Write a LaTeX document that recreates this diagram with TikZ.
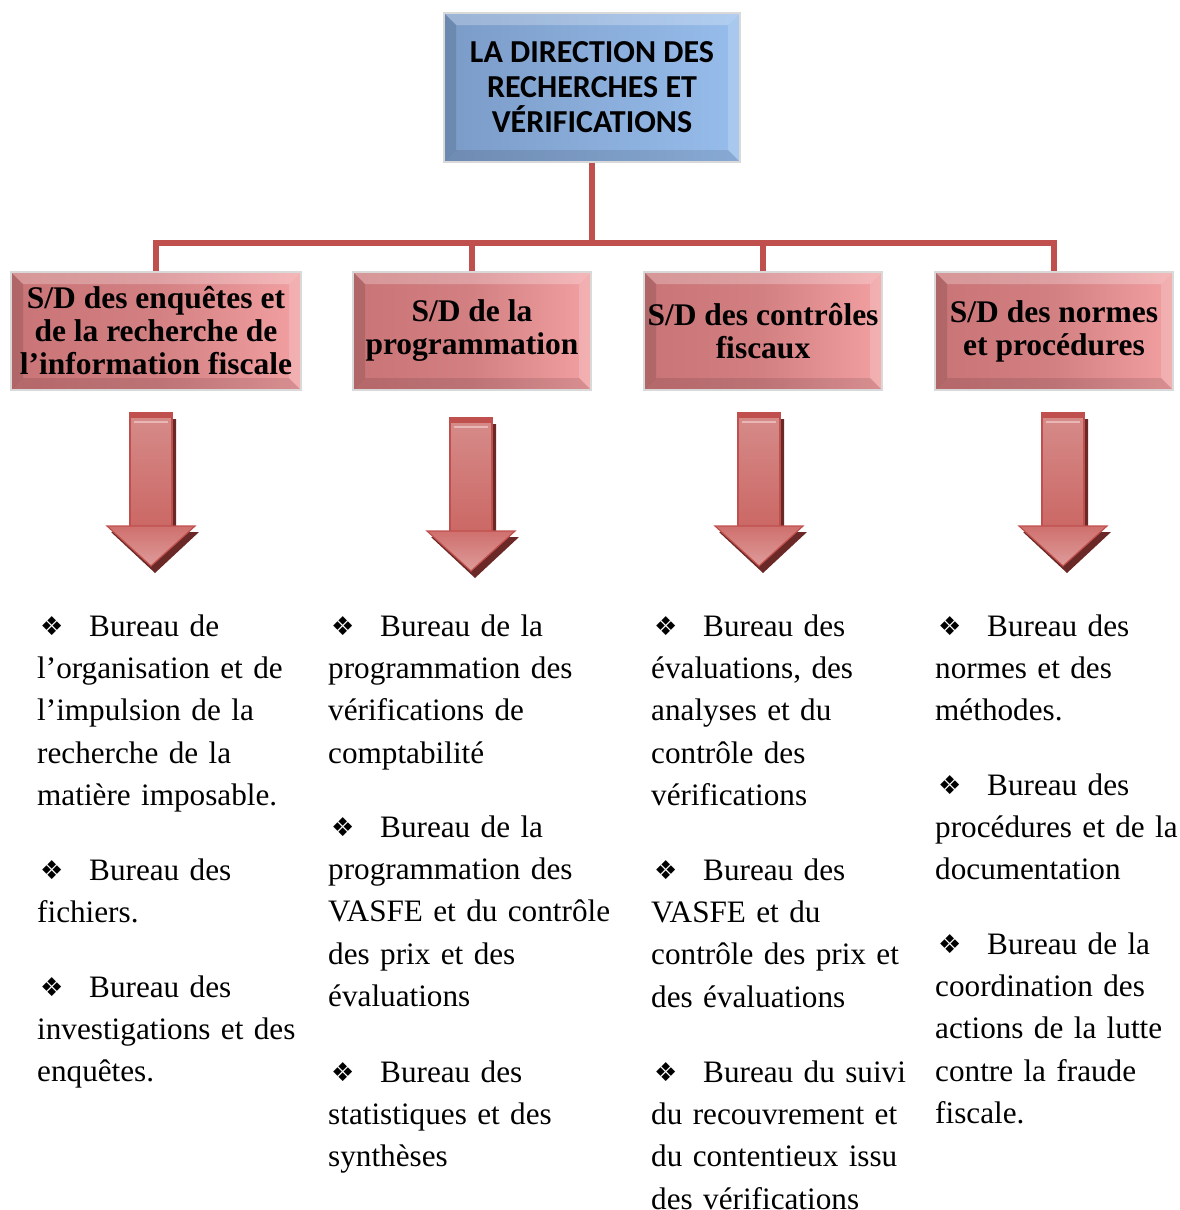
\documentclass[tikz,border=0pt]{standalone}
\usepackage{fontspec}
\setmainfont{Liberation Serif}
\newfontfamily\calib{Carlito}
\newfontfamily\dejavu{DejaVu Sans}
\definecolor{lineR}{HTML}{C0504D}
\definecolor{blueL}{HTML}{7B9BC7}
\definecolor{blueR}{HTML}{97BDEC}
\definecolor{pinkL}{HTML}{C97476}
\definecolor{pinkM}{HTML}{D38083}
\definecolor{pinkR}{HTML}{F2A0A2}
\definecolor{shadowR}{HTML}{6A2826}
\newcommand{\bul}{\makebox[52pt][l]{\hspace{3pt}\raisebox{1pt}{\dejavu\fontsize{26}{26}\selectfont ❖}}}
\newcommand{\downarr}[2]{%
  \fill[shadowR] (#1-17,#2+6) -- (#1+25,#2+6) -- (#1+25,#2+119) -- (#1+48,#2+119) -- (#1+4,#2+160) -- (#1-40,#2+119) -- (#1-17,#2+119) -- cycle;
  \shade[top color=arrTop, middle color=lineR, bottom color=arrBot, draw=lineR, line width=1.2pt] (#1-21,#2) rectangle (#1+21,#2+114);
  \fill[lineR] (#1-21,#2) rectangle (#1+21,#2+5);
  \draw[arrHi, line width=1.5pt] (#1-17,#2+9) -- (#1+17,#2+9);
  \shade[top color=arrHead1, bottom color=arrHead2, draw=lineR, line width=1.2pt] (#1-44,#2+113) -- (#1+44,#2+113) -- (#1,#2+153) -- cycle;
}
\definecolor{arrTop}{HTML}{D68C8A}
\definecolor{arrBot}{HTML}{CB6865}
\definecolor{arrHi}{HTML}{E9B7B5}
\definecolor{arrHead1}{HTML}{CF706E}
\definecolor{arrHead2}{HTML}{DE9C9A}
\tikzset{
  bevel/.style={path picture={
    \fill[white,opacity=.25] (path picture bounding box.north west) -- (path picture bounding box.north east) -- ([shift={(-12pt,-12pt)}]path picture bounding box.north east) -- ([shift={(12pt,-12pt)}]path picture bounding box.north west) -- cycle;
    \fill[white,opacity=.18] (path picture bounding box.north east) -- (path picture bounding box.south east) -- ([shift={(-12pt,12pt)}]path picture bounding box.south east) -- ([shift={(-12pt,-12pt)}]path picture bounding box.north east) -- cycle;
    \fill[black,opacity=.12] (path picture bounding box.north west) -- (path picture bounding box.south west) -- ([shift={(12pt,12pt)}]path picture bounding box.south west) -- ([shift={(12pt,-12pt)}]path picture bounding box.north west) -- cycle;
    \fill[black,opacity=.10] (path picture bounding box.south west) -- (path picture bounding box.south east) -- ([shift={(-12pt,12pt)}]path picture bounding box.south east) -- ([shift={(12pt,12pt)}]path picture bounding box.south west) -- cycle;
  }},
  dirbox/.style={bevel, left color=blueL, right color=blueR, draw=black!15, line width=1.5pt,
    minimum width=296pt, minimum height=149pt, inner sep=0pt, align=center,
    font=\calib\bfseries\fontsize{32}{35}\selectfont},
  sdbox/.style={bevel, left color=pinkL, right color=pinkR, middle color=pinkM, draw=black!15, line width=1.5pt,
    minimum height=118pt, inner sep=0pt, align=center,
    font=\bfseries\fontsize{31.5}{33}\selectfont},
  conn/.style={draw=lineR, line width=5.5pt},
  bureau/.style={anchor=base west, inner sep=0pt, text width=300pt, align=left,
    font=\fontsize{31.2}{42.4}\selectfont},
}
\begin{document}
\begin{tikzpicture}[x=1pt,y=-1pt]
\useasboundingbox (0,0) rectangle (1179,1210);
% top box
\node[dirbox] (dir) at (592,87.5) {LA DIRECTION DES\\RECHERCHES ET\\VÉRIFICATIONS};
% sub-directions
\node[sdbox, minimum width=290pt] (s1) at (156,331) {\rule{0pt}{0pt}S/D des enquêtes et\\de la recherche de\\l’information fiscale};
\node[sdbox, minimum width=238pt] (s2) at (472,331) {S/D de la\\programmation};
\node[sdbox, minimum width=238pt] (s3) at (763,331) {S/D des contrôles\\fiscaux};
\node[sdbox, minimum width=238pt] (s4) at (1054,331) {S/D des normes\\et procédures};
% connectors
\coordinate (bus) at (592,243);
\draw[conn] (dir.south) -- (bus);
\draw[conn] (s1.north) |- (s4.north |- bus) -- (s4.north);
\draw[conn] (s2.north) -- (s2.north |- bus);
\draw[conn] (s3.north) -- (s3.north |- bus);
% arrows
\downarr{151}{413}
\downarr{471}{418}
\downarr{759}{413}
\downarr{1063}{413}
% column 1
\node[bureau] (b11) at (37,636) {\bul Bureau de\\l’organisation et de\\l’impulsion de la\\recherche de la\\matière imposable.};
\node[bureau] (b12) at (37,880) {\bul Bureau des\\fichiers.};
\node[bureau] (b13) at (37,997) {\bul Bureau des\\investigations et des\\enquêtes.};
% column 2
\node[bureau] (b21) at (328,636) {\bul Bureau de la\\programmation des\\vérifications de\\comptabilité};
\node[bureau] (b22) at (328,837) {\bul Bureau de la\\programmation des\\VASFE et du contrôle\\des prix et des\\évaluations};
\node[bureau] (b23) at (328,1082) {\bul Bureau des\\statistiques et des\\synthèses};
% column 3
\node[bureau] (b31) at (651,636) {\bul Bureau des\\évaluations, des\\analyses et du\\contrôle des\\vérifications};
\node[bureau] (b32) at (651,880) {\bul Bureau des\\VASFE et du\\contrôle des prix et\\des évaluations};
\node[bureau] (b33) at (651,1082) {\bul Bureau du suivi\\du recouvrement et\\du contentieux issu\\des vérifications};
% column 4
\node[bureau] (b41) at (935,636) {\bul Bureau des\\normes et des\\méthodes.};
\node[bureau] (b42) at (935,795) {\bul Bureau des\\procédures et de la\\documentation};
\node[bureau] (b43) at (935,954) {\bul Bureau de la\\coordination des\\actions de la lutte\\contre la fraude\\fiscale.};
\end{tikzpicture}
\end{document}
